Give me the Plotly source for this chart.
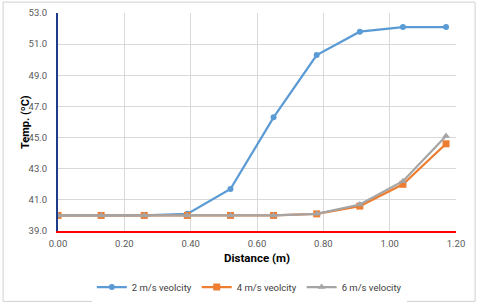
import plotly.graph_objects as go

distance = [0.00, 0.13, 0.26, 0.39, 0.52, 0.65, 0.78, 0.91, 1.04, 1.17]
temp_2ms = [40.0, 40.0, 40.0, 40.1, 41.7, 46.3, 50.3, 51.8, 52.1, 52.1]
temp_4ms = [40.0, 40.0, 40.0, 40.0, 40.0, 40.0, 40.1, 40.6, 42.0, 44.6]
temp_6ms = [40.0, 40.0, 40.0, 40.0, 40.0, 40.0, 40.1, 40.7, 42.2, 45.1]
series_names = ["2 m/s veolcity", "4 m/s veolcity", "6 m/s velocity"]
x_ticks = [0.0, 0.2, 0.4, 0.6, 0.8, 1.0, 1.2]
y_ticks = [39, 41, 43, 45, 47, 49, 51, 53]

colors = ["#5B9BD5", "#ED7D31", "#A5A5A5"]
symbols = ["circle", "square", "triangle-up"]
sizes = [6, 7, 7]

fig = go.Figure()
for name, ys, c, s, sz in zip(series_names, [temp_2ms, temp_4ms, temp_6ms], colors, symbols, sizes):
    fig.add_trace(go.Scatter(
        x=distance, y=ys, name=name, mode="lines+markers",
        line=dict(color=c, width=2.25),
        marker=dict(color=c, symbol=s, size=sz),
    ))

font_family = "Roboto, Open Sans, Liberation Sans, sans-serif"
fig.update_layout(
    width=480, height=304,
    margin=dict(l=58, r=24, t=13, b=73, autoexpand=False),
    paper_bgcolor="white", plot_bgcolor="white",
    font=dict(family=font_family, size=9, color="#595959"),
    showlegend=True,
    legend=dict(orientation="h", x=0.085, xanchor="left", y=-0.257, yanchor="middle",
                font=dict(size=9.5, color="#404040"), itemwidth=30, tracegroupgap=0),
    shapes=[dict(type="rect", xref="paper", yref="paper", x0=-0.138, x1=1.048, y0=-0.323, y1=1.05,
                 line=dict(color="#D0D0D0", width=1), layer="below")],
    annotations=[dict(text="<b>Temp. (ºC)</b>", xref="paper", yref="paper", x=-0.083, y=0.5,
                      xanchor="center", yanchor="middle", textangle=-90, showarrow=False,
                      font=dict(size=11, color="#000000"))],
)
fig.update_xaxes(
    range=[0, 1.2], tickvals=x_ticks, tickformat=".2f", automargin=False,
    showgrid=True, gridcolor="#D9D9D9", gridwidth=1,
    showline=True, linecolor="#FF0000", linewidth=2,
    zeroline=False, ticks="", tickfont=dict(size=9.5, color="#595959"), ticklabelstandoff=3,
    title=dict(text="<b>Distance (m)</b>", font=dict(size=11.5, color="#000000"), standoff=6),
)
fig.update_yaxes(
    range=[39, 53], tickvals=y_ticks, tickformat=".1f", automargin=False,
    showgrid=True, gridcolor="#D9D9D9", gridwidth=1,
    showline=True, linecolor="#1F3C88", linewidth=2,
    zeroline=False, ticks="", tickfont=dict(size=9.5, color="#595959"), ticklabelstandoff=7,
)

fig.write_html("out.html", config={"displayModeBar": False},
               post_script="document.body.style.margin='0';")
